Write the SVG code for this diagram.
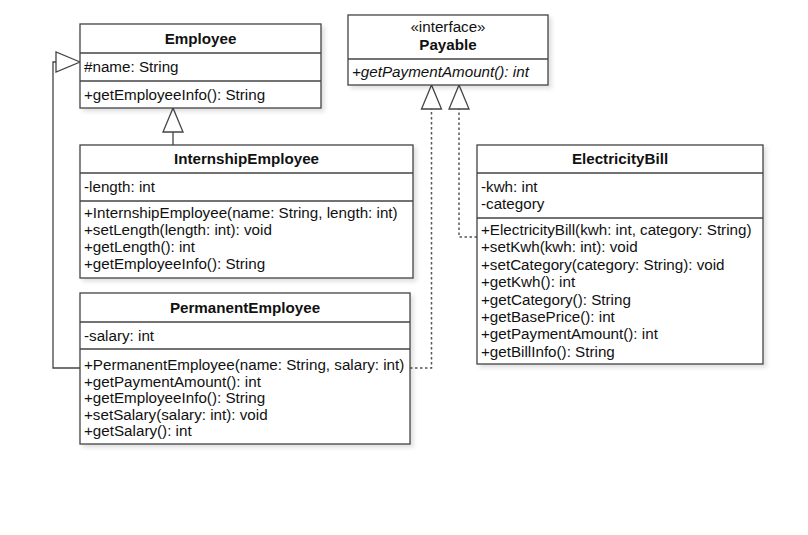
<svg xmlns="http://www.w3.org/2000/svg" width="808" height="535" viewBox="0 0 808 535">
<style>
text{font-family:"Liberation Sans",Arial,Helvetica,sans-serif;font-size:15.2px;fill:#111}
.t{font-weight:bold;text-anchor:middle}
.c{text-anchor:middle}
.i{font-style:italic}
.box{fill:#fff;stroke:#444;stroke-width:1.3;filter:url(#sh)}
.sep{stroke:#444;stroke-width:1.3;fill:none}
.solid{fill:none;stroke:#444;stroke-width:1.3}
.dot{fill:none;stroke:#555;stroke-width:1.5;stroke-dasharray:2.5 2.5}
.tri{fill:#fff;stroke:#444;stroke-width:1.3}
</style>
<defs>
<filter id="sh" x="-5%" y="-5%" width="115%" height="120%">
<feDropShadow dx="3" dy="3" stdDeviation="2" flood-color="#000" flood-opacity="0.12"/>
</filter>
</defs>
<rect width="808" height="535" fill="#fff"/>
<g id="connectors">
<path class="solid" d="M80,368 H53 V62 H56"/>
<polygon class="tri" points="80,62 56,52 56,72"/>
<path class="solid" d="M173,145 V132"/>
<polygon class="tri" points="173,108 163,132 183,132"/>
<path class="dot" d="M410,368 H431.5 V109"/>
<polygon class="tri" points="431.5,85 421.5,109 441.5,109"/>
<path class="dot" d="M477,237 H459 V109"/>
<polygon class="tri" points="459,85 449,109 469,109"/>
</g>
<g id="Employee">
<rect class="box" x="80" y="24" width="241" height="84"/>
<path class="sep" d="M80,53 H321 M80,81 H321"/>
<text class="t" x="200.5" y="43.5">Employee</text>
<text x="84" y="72">#name: String</text>
<text x="84" y="99.5">+getEmployeeInfo(): String</text>
</g>
<g id="Payable">
<rect class="box" x="348" y="15" width="200" height="70"/>
<path class="sep" d="M348,59 H548"/>
<text class="c" x="448" y="31.5">«interface»</text>
<text class="t" x="448" y="50">Payable</text>
<text class="i" x="352" y="77">+getPaymentAmount(): int</text>
</g>
<g id="InternshipEmployee">
<rect class="box" x="80" y="145" width="333" height="133"/>
<path class="sep" d="M80,173 H413 M80,201 H413"/>
<text class="t" x="246.5" y="164">InternshipEmployee</text>
<text x="84" y="192">-length: int</text>
<text x="84" y="218">+InternshipEmployee(name: String, length: int)</text>
<text x="84" y="235">+setLength(length: int): void</text>
<text x="84" y="252">+getLength(): int</text>
<text x="84" y="269">+getEmployeeInfo(): String</text>
</g>
<g id="PermanentEmployee">
<rect class="box" x="80" y="293" width="330" height="151"/>
<path class="sep" d="M80,322 H410 M80,349 H410"/>
<text class="t" x="245" y="312.5">PermanentEmployee</text>
<text x="84" y="340.5">-salary: int</text>
<text x="84" y="370">+PermanentEmployee(name: String, salary: int)</text>
<text x="84" y="386.5">+getPaymentAmount(): int</text>
<text x="84" y="403">+getEmployeeInfo(): String</text>
<text x="84" y="419.5">+setSalary(salary: int): void</text>
<text x="84" y="436">+getSalary(): int</text>
</g>
<g id="ElectricityBill">
<rect class="box" x="477" y="145" width="286" height="219"/>
<path class="sep" d="M477,173 H763 M477,218 H763"/>
<text class="t" x="620" y="164">ElectricityBill</text>
<text x="481" y="191.5">-kwh: int</text>
<text x="481" y="208.5">-category</text>
<text x="481" y="235">+ElectricityBill(kwh: int, category: String)</text>
<text x="481" y="252.4">+setKwh(kwh: int): void</text>
<text x="481" y="269.8">+setCategory(category: String): void</text>
<text x="481" y="287.2">+getKwh(): int</text>
<text x="481" y="304.6">+getCategory(): String</text>
<text x="481" y="322">+getBasePrice(): int</text>
<text x="481" y="339.4">+getPaymentAmount(): int</text>
<text x="481" y="356.8">+getBillInfo(): String</text>
</g>
</svg>
